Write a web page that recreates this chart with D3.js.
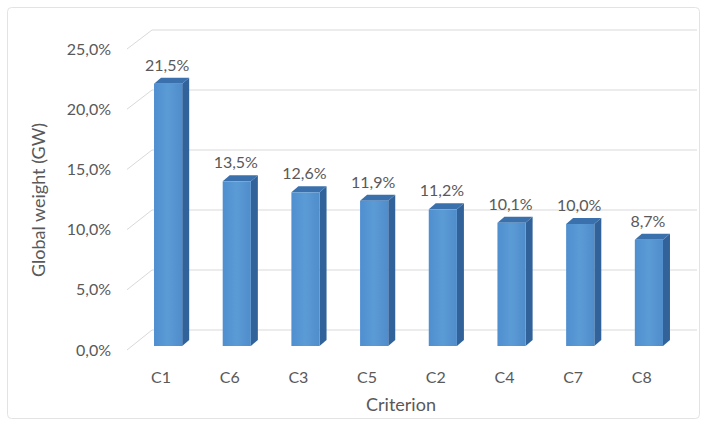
<!DOCTYPE html>
<html>
<head>
<meta charset="utf-8">
<script src="https://cdn.jsdelivr.net/npm/d3@7"></script>
<style>
  html, body { margin: 0; padding: 0; background: #ffffff; }
  svg text { font-family: Lato, "Open Sans", sans-serif; fill: #595959; }
</style>
</head>
<body>
<svg id="chart" width="707" height="432"></svg>
<script>
// ---- data ----
const categories = ["C1", "C6", "C3", "C5", "C2", "C4", "C7", "C8"];
const values = [21.5, 13.5, 12.6, 11.9, 11.2, 10.1, 10.0, 8.7];
const valueLabels = ["21,5%", "13,5%", "12,6%", "11,9%", "11,2%", "10,1%", "10,0%", "8,7%"];
const tickValues = [0, 5, 10, 15, 20, 25];
const tickLabels = ["0,0%", "5,0%", "10,0%", "15,0%", "20,0%", "25,0%"];
const yTitle = "Global weight (GW)";
const xTitle = "Criterion";

const svg = d3.select("#chart");

// outer chart frame
svg.append("rect")
  .attr("x", 7.5).attr("y", 7.5).attr("width", 692).attr("height", 411)
  .attr("rx", 4)
  .attr("fill", "#ffffff").attr("stroke", "#e3e3e3");

// scales: front plane, back wall, bars
const yFront = d3.scaleLinear().domain([0, 25]).range([350, 49]);
const yBack = d3.scaleLinear().domain([0, 25]).range([330, 30]);
const yBar = d3.scaleLinear().domain([0, 25]).range([346, 41]);
const xFrontEdge = 127, xBackEdge = 152, xBackRight = 697;

const x = d3.scaleBand().domain(categories).range([113.5, 703.5]).padding(0.59);
const bw = x.bandwidth();
const dx = 7, dy = -6;

// gridlines on back wall + side wall diagonals
const grid = svg.append("g").attr("stroke", "#d9d9d9").attr("stroke-width", 1).attr("fill", "none");
tickValues.forEach(v => {
  grid.append("path")
    .attr("d", `M${xFrontEdge},${yFront(v)}L${xBackEdge},${yBack(v)}L${xBackRight},${yBack(v)}`);
});

// y tick labels
svg.append("g").selectAll("text").data(tickValues).join("text")
  .attr("x", 111).attr("y", d => yFront(d))
  .attr("dy", "0.35em")
  .attr("text-anchor", "end")
  .attr("font-size", 16)
  .text((d, i) => tickLabels[i]);

// bars (3D)
const bars = svg.append("g").selectAll("g").data(categories).join("g");
const grad = svg.append("defs").append("linearGradient").attr("id", "front")
  .attr("x1", 0).attr("x2", 1).attr("y1", 0).attr("y2", 0);
grad.append("stop").attr("offset", "0%").attr("stop-color", "#4f8fd0");
grad.append("stop").attr("offset", "50%").attr("stop-color", "#5b9bd5");
grad.append("stop").attr("offset", "100%").attr("stop-color", "#4f8ccb");

bars.each(function (c, i) {
  const g = d3.select(this);
  const x0 = x(c), x1 = x(c) + bw;
  const yt = yBar(values[i]), yb = yBar(0);
  // side face
  g.append("path")
    .attr("d", `M${x1},${yt}L${x1 + dx},${yt + dy}L${x1 + dx},${yb + dy}L${x1},${yb}Z`)
    .attr("fill", "#31639a");
  // top face
  g.append("path")
    .attr("d", `M${x0},${yt}L${x0 + dx},${yt + dy}L${x1 + dx},${yt + dy}L${x1},${yt}Z`)
    .attr("fill", "#3a70ab");
  // front face
  g.append("rect")
    .attr("x", x0).attr("y", yt).attr("width", bw).attr("height", yb - yt)
    .attr("fill", "url(#front)");
});

// value labels
svg.append("g").selectAll("text").data(categories).join("text")
  .attr("x", d => x(d) + bw / 2 - 1)
  .attr("y", (d, i) => yBar(values[i]) - 13)
  .attr("text-anchor", "middle")
  .attr("font-size", 16)
  .text((d, i) => valueLabels[i]);

// category labels
svg.append("g").selectAll("text").data(categories).join("text")
  .attr("x", d => x(d) + 7)
  .attr("y", 383)
  .attr("text-anchor", "middle")
  .attr("font-size", 16)
  .text(d => d);

// axis titles
svg.append("text")
  .attr("transform", "translate(45,200) rotate(-90)")
  .attr("text-anchor", "middle")
  .attr("font-size", 18)
  .text(yTitle);

svg.append("text")
  .attr("x", 401).attr("y", 411)
  .attr("text-anchor", "middle")
  .attr("font-size", 18)
  .text(xTitle);
</script>
</body>
</html>
